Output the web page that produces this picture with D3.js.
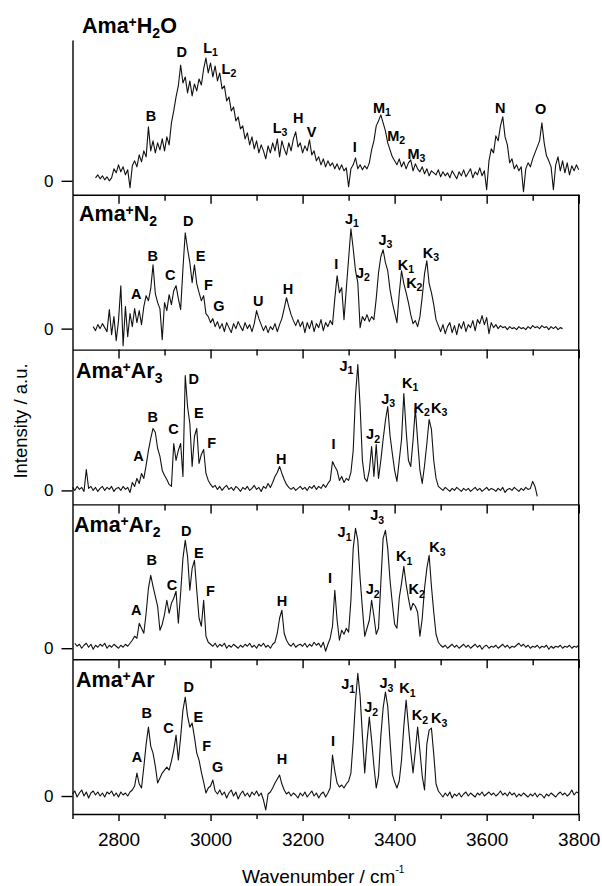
<!DOCTYPE html>
<html>
<head>
<meta charset="utf-8">
<script src="https://cdn.jsdelivr.net/npm/d3@7"></script>
<style>
  body { margin: 0; background: #fff; }
  text { font-family: Arial, "Liberation Sans", sans-serif; fill: #000; }
</style>
</head>
<body>
<div id="vis"></div>
<script>

const FRAME_WIDTH = 602;
const FRAME_HEIGHT = 886;
const MARGINS = {left: 72.5, right: 23.3, top: 40, bottom: 72};
const PANEL_HEIGHT = 154.8;

// x axis (wavenumber / cm-1)
const X_DOMAIN = [2700, 3800];
const X_TICKS = [2800, 3000, 3200, 3400, 3600, 3800];
const X_MINOR = [2700, 2900, 3100, 3300, 3500, 3700];

// panels, top to bottom
const TITLES = ['Ama^+H_2O', 'Ama^+N_2', 'Ama^+Ar_3', 'Ama^+Ar_2', 'Ama^+Ar'];
const Y_RANGES = [[-14, 141], [-21, 134], [-14, 141], [-11, 144], [-18, 137]];

// spectra: first wavenumber of each trace, 5 cm-1 spacing
const STARTS = [2750, 2745, 2700, 2705, 2700];
const STEP = 5;

const H2O = [3,6,2,5,1,4,0,3,12,8,
  16,9,14,6,11,-7,15,20,14,26,
  19,30,24,54,30,40,28,38,31,42,
  30,44,36,58,70,84,95,116,98,104,
  88,100,85,97,90,102,96,112,123,108,
  118,104,115,100,108,92,95,80,84,70,
  74,60,64,52,55,42,48,36,44,32,
  40,28,36,30,22,35,28,38,30,42,
  24,40,32,26,38,30,42,49,34,38,
  28,35,30,41,26,30,20,24,16,22,
  14,20,15,18,12,17,11,16,10,13,
  -6,12,16,23,12,16,11,15,12,18,
  31,40,55,60,66,58,50,38,31,24,
  20,16,22,14,19,12,18,21,10,17,
  12,9,14,7,12,5,10,8,6,11,
  4,9,5,8,3,10,6,2,9,5,
  11,4,8,12,3,9,6,13,5,10,
  -9,20,32,28,45,40,55,64,44,36,
  18,22,12,16,10,14,-11,12,18,14,
  22,28,34,40,58,38,25,20,14,-9,
  16,24,10,20,8,18,6,15,10,16,
  11];

const N2 = [2,-2,4,0,5,1,-3,19,-6,12,
  -12,8,43,-17,22,-8,15,2,20,6,
  18,4,22,33,28,40,64,35,26,20,
  -11,26,18,34,24,38,43,30,19,60,
  96,80,66,46,64,45,36,28,33,15,
  12,6,10,2,7,0,5,-3,6,1,
  -4,5,0,7,2,-2,6,0,4,-3,
  5,18,10,4,-2,3,-4,2,-1,5,
  -3,4,10,20,31,22,14,8,3,9,
  2,7,-4,6,0,8,-3,5,1,9,
  -2,6,2,8,4,30,53,36,41,9,
  40,70,100,80,58,46,1,12,8,14,
  7,12,9,30,56,72,79,66,58,39,
  26,16,6,35,58,45,36,26,14,5,
  8,2,12,32,55,68,45,36,24,9,
  3,-3,4,-5,2,6,-4,3,-6,5,
  0,7,-3,4,1,8,-2,9,5,13,
  4,11,-5,6,1,4,0,3,1,2,
  -1,2,0,1,-1,2,0,1,-1,2,
  0,3,1,2,0,3,1,2,-1,2,
  0,2,-1,1,0];

const AR3 = [3,0,4,1,3,-1,21,2,4,0,
  3,-1,2,4,0,3,1,4,-1,2,
  3,0,4,1,3,-2,8,4,12,7,
  17,12,25,40,52,62,58,42,34,20,
  15,11,6,4,47,30,40,47,14,115,
  84,67,24,54,62,27,36,41,17,10,
  6,3,5,1,4,0,3,5,1,3,
  0,4,2,-1,3,1,4,0,2,5,
  1,3,-1,4,2,7,3,8,14,18,
  24,17,11,6,3,1,3,0,2,4,
  1,3,0,4,2,5,1,4,2,6,
  3,7,10,29,24,20,10,14,8,12,
  10,18,40,95,126,84,30,12,9,20,
  44,14,46,12,30,51,70,84,55,37,
  20,9,30,51,97,60,30,24,50,82,
  50,20,7,25,47,71,61,30,12,4,
  2,0,3,1,-1,2,0,3,1,-1,
  2,0,2,-1,1,3,0,2,-1,1,
  3,0,2,1,-1,2,0,3,-2,1,
  2,0,3,1,-1,2,0,3,1,2,
  9,4,-6];

const AR2 = [5,2,4,0,3,5,1,4,-1,3,
  1,4,2,5,0,3,1,4,2,0,
  3,1,4,2,5,8,12,10,25,20,
  15,35,60,73,62,52,42,18,24,34,
  48,35,45,50,57,25,55,90,108,92,
  58,80,88,58,30,22,48,12,6,4,
  2,5,1,4,2,5,0,3,1,4,
  2,0,3,1,4,2,5,1,3,0,
  4,2,5,1,3,0,4,6,15,30,
  38,15,8,4,2,5,1,3,4,2,
  5,1,4,2,6,3,5,1,6,-3,
  4,10,22,58,28,8,18,14,20,16,
  48,100,120,108,70,40,12,20,28,48,
  32,14,20,65,110,118,100,68,45,24,
  20,50,65,82,64,50,38,45,42,36,
  12,30,60,80,93,62,36,14,6,3,
  1,3,0,2,4,1,3,0,2,4,
  1,3,0,2,4,1,3,-1,2,3,
  0,2,1,3,0,2,4,1,3,0,
  2,1,3,5,2,4,1,3,0,2,
  1,3,0,2,1,3,-1,2,0,2,
  1,3,0,2,1,3,0,2,1,3];

const AR1 = [2,5,-1,3,6,0,4,-2,3,5,
  1,4,0,3,-1,4,2,5,0,3,
  -1,4,1,3,0,4,6,10,23,12,
  8,29,52,69,50,43,30,13,18,23,
  26,29,26,35,46,61,36,59,86,99,
  80,69,73,59,43,36,24,14,3,8,
  10,16,5,2,6,1,4,-2,3,6,
  0,4,-3,2,5,0,3,-1,4,1,
  5,0,3,-4,-14,2,4,8,13,17,
  21,12,6,2,4,0,3,1,-2,3,
  0,4,-1,2,5,0,3,-2,2,4,
  -1,3,8,41,25,13,9,11,8,12,
  15,23,55,95,123,100,60,23,55,79,
  56,30,8,20,60,88,104,90,55,22,
  14,8,15,36,70,96,70,45,23,45,
  69,45,20,6,52,66,68,42,12,5,
  2,-1,3,0,4,-2,2,0,3,-1,
  2,4,0,3,1,-1,3,1,4,0,
  2,4,1,3,0,2,5,1,3,0,
  4,1,3,-1,2,0,3,1,-1,2,
  0,3,-1,2,1,-2,2,0,3,1,
  -1,2,4,1,3,0,2,6,1,4,
  3];

// peak labels: [label, wavenumber of left edge, intensity at baseline]
const H2O_PEAKS = [['B',2859,60],['D',2926,124],['L_1',2984,128],['L_2',3024,107],['L_3',3135,48],
  ['H',3179,58],['V',3209,44],['I',3309,29],['M_1',3353,68],['M_2',3384,40],['M_3',3428,22],
  ['N',3618,68],['O',3705,67]];
const N2_PEAKS = [['A',2827,30],['B',2863,68],['C',2901,49],['D',2940,103],['E',2968,68],['F',2986,39],
  ['G',3006,18],['U',3092,23],['H',3157,35],['I',3269,60],['J_1',3292,105],['J_2',3316,51],
  ['J_3',3365,84],['K_1',3407,59],['K_2',3425,41],['K_3',3461,71]];
const AR3_PEAKS = [['A',2832,29],['B',2863,69],['C',2908,56],['D',2952,107],['E',2964,73],['F',2993,42],
  ['H',3142,26],['I',3263,41],['J_1',3280,120],['J_2',3338,51],['J_3',3371,87],['K_1',3416,103],
  ['K_2',3441,78],['K_3',3479,78]];
const AR2_PEAKS = [['A',2827,33],['B',2861,83],['C',2905,58],['D',2936,112],['E',2964,90],['F',2990,52],
  ['H',3144,42],['I',3255,65],['J_1',3276,111],['J_2',3337,54],['J_3',3347,128],['K_1',3403,87],
  ['K_2',3430,54],['K_3',3475,96]];
const AR1_PEAKS = [['A',2829,34],['B',2850,78],['C',2897,63],['D',2941,104],['E',2963,74],['F',2982,45],
  ['G',3003,24],['H',3144,32],['I',3262,50],['J_1',3284,107],['J_2',3334,84],['J_3',3367,108],
  ['K_1',3410,103],['K_2',3437,76],['K_3',3479,73]];

const SERIES = [H2O, N2, AR3, AR2, AR1];
const PEAKS = [H2O_PEAKS, N2_PEAKS, AR3_PEAKS, AR2_PEAKS, AR1_PEAKS];

const TITLE_X = [82, 79, 76, 74, 76];
const TITLE_DY = [-7, 26, 28, 28, 28];

const FRAME = d3.select('#vis')
  .append('svg')
    .attr('width', FRAME_WIDTH)
    .attr('height', FRAME_HEIGHT);

const X_SCALE = d3.scaleLinear()
  .domain(X_DOMAIN)
  .range([MARGINS.left, FRAME_WIDTH - MARGINS.right]);

// text with ^x superscript and _x subscript
function richText(sel, str, smallSize, supShift, subShift) {
  let shift = 0;
  str.match(/[\^_].|[^\^_]+/g).forEach(p => {
    let target = 0, txt = p;
    if (p[0] === '^') { target = -supShift; txt = p.slice(1); }
    if (p[0] === '_') { target = subShift; txt = p.slice(1); }
    const t = sel.append('tspan').attr('dy', target - shift).text(txt);
    if (target !== 0) t.attr('font-size', smallSize);
    shift = target;
  });
}

function styleAxis(g) {
  g.selectAll('path, line').attr('stroke', '#000').attr('stroke-width', 1.4);
  g.attr('font-family', 'Arial, "Liberation Sans", sans-serif');
}

SERIES.forEach((vals, i) => {
  const top = MARGINS.top + i * PANEL_HEIGHT;
  const bottom = top + PANEL_HEIGHT;
  const Y_SCALE = d3.scaleLinear().domain(Y_RANGES[i]).range([bottom, top]);

  const pts = vals.map((v, j) => [STARTS[i] + j * STEP, v]);

  FRAME.append('path')
    .datum(pts)
    .attr('fill', 'none')
    .attr('stroke', '#111')
    .attr('stroke-width', 1.1)
    .attr('stroke-linejoin', 'round')
    .attr('d', d3.line().x(d => X_SCALE(d[0])).y(d => Y_SCALE(d[1])));

  // left axis with the zero tick
  FRAME.append('g')
    .attr('transform', 'translate(' + MARGINS.left + ',0)')
    .call(d3.axisLeft(Y_SCALE).tickValues([0]).tickSize(11).tickPadding(8)
      .tickSizeOuter(0).tickFormat(d3.format('d')))
    .attr('font-size', 17)
    .call(styleAxis);

  if (i > 0) {
    // top edge, ticks pointing in
    FRAME.append('g')
      .attr('transform', 'translate(0,' + top + ')')
      .call(d3.axisTop(X_SCALE).tickValues(X_TICKS).tickSize(-9).tickSizeOuter(0).tickFormat(''))
      .call(styleAxis);
    FRAME.append('g')
      .attr('transform', 'translate(0,' + top + ')')
      .call(d3.axisTop(X_SCALE).tickValues(X_MINOR.slice(1)).tickSize(-6).tickFormat(''))
      .call(g => g.select('.domain').remove())
      .call(styleAxis);
    // right edge
    FRAME.append('line')
      .attr('x1', X_SCALE(X_DOMAIN[1])).attr('x2', X_SCALE(X_DOMAIN[1]))
      .attr('y1', top).attr('y2', bottom)
      .attr('stroke', '#000').attr('stroke-width', 1.4);
  }

  const title = FRAME.append('text')
    .attr('x', TITLE_X[i])
    .attr('y', top + TITLE_DY[i])
    .attr('font-size', 21.5)
    .attr('font-weight', 'bold');
  richText(title, TITLES[i], 14, 6, 5);

  PEAKS[i].forEach(p => {
    const t = FRAME.append('text')
      .attr('x', X_SCALE(p[1]))
      .attr('y', Y_SCALE(p[2]))
      .attr('font-size', 14.5)
      .attr('font-weight', 'bold');
    richText(t, p[0], 10.5, 5, 3.5);
  });
});

// bottom axis
const AXIS_Y = MARGINS.top + 5 * PANEL_HEIGHT;
FRAME.append('g')
  .attr('transform', 'translate(0,' + AXIS_Y + ')')
  .call(d3.axisBottom(X_SCALE).tickValues(X_TICKS).tickSize(7).tickPadding(12)
    .tickSizeOuter(0).tickFormat(d3.format('d')))
  .attr('font-size', 19)
  .call(styleAxis);
FRAME.append('g')
  .attr('transform', 'translate(0,' + AXIS_Y + ')')
  .call(d3.axisBottom(X_SCALE).tickValues(X_MINOR).tickSize(5).tickFormat(''))
  .call(g => g.select('.domain').remove())
  .call(styleAxis);

// axis titles
const xTitle = FRAME.append('text')
  .attr('x', 242)
  .attr('y', 883)
  .attr('font-size', 19);
xTitle.append('tspan').text('Wavenumber / cm');
xTitle.append('tspan').attr('dy', -10).attr('font-size', 10).text('-1');

FRAME.append('text')
  .attr('transform', 'translate(27,421) rotate(-90)')
  .attr('text-anchor', 'middle')
  .attr('font-size', 18.5)
  .text('Intensity / a.u.');

</script>
</body>
</html>
